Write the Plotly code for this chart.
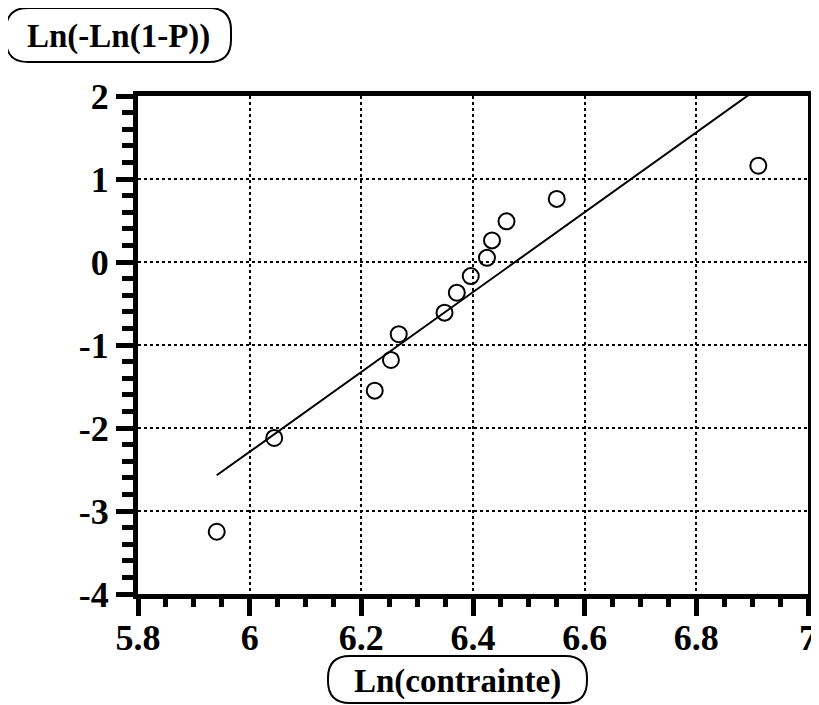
import plotly.graph_objects as go

# Measured points (Weibull plot)
ln_stress = [5.941, 6.044, 6.224, 6.253, 6.267, 6.349, 6.371, 6.396, 6.425, 6.434, 6.46, 6.55, 6.911]
ln_ln_p = [-3.25, -2.12, -1.55, -1.18, -0.87, -0.61, -0.37, -0.17, 0.05, 0.26, 0.49, 0.76, 1.16]

# Fitted line ends
fit_x = [5.941, 6.914]
fit_y = [-2.57, 2.11]

x_ticks = [5.8, 6, 6.2, 6.4, 6.6, 6.8, 7]
y_ticks = [-4, -3, -2, -1, 0, 1, 2]

# page body has an 8px margin, so the figure is drawn 8px in from the corner
OFF = 8
W, H = 819 - OFF, 705 - OFF
L, R, T, B = 138 - OFF, 11, 96 - OFF, 111
PW, PH = W - L - R, H - T - B

tick_font = dict(family="Liberation Serif", size=36, color="black")
title_font = dict(family="Liberation Serif", size=33, color="black")


def px2paper(px, py):
    return (px - OFF - L) / PW, (H - B - (py - OFF)) / PH


def rounded_box(x0, y0, x1, y1, r):
    pts = [
        ("M", [(x0 + r, y0)]),
        ("L", [(x1 - r, y0)]),
        ("Q", [(x1, y0), (x1, y0 + r)]),
        ("L", [(x1, y1 - r)]),
        ("Q", [(x1, y1), (x1 - r, y1)]),
        ("L", [(x0 + r, y1)]),
        ("Q", [(x0, y1), (x0, y1 - r)]),
        ("L", [(x0, y0 + r)]),
        ("Q", [(x0, y0), (x0 + r, y0)]),
    ]
    path = ""
    for cmd, coords in pts:
        path += cmd + " " + " ".join("%.5f,%.5f" % px2paper(*c) for c in coords) + " "
    return dict(type="path", xref="paper", yref="paper", path=path + "Z",
                line=dict(color="black", width=2))


fig = go.Figure()
fig.add_trace(go.Scatter(x=fit_x, y=fit_y, mode="lines",
                         line=dict(color="black", width=2), showlegend=False))
fig.add_trace(go.Scatter(x=ln_stress, y=ln_ln_p, mode="markers",
                         marker=dict(symbol="circle-open", size=16, color="black",
                                     line=dict(width=2)),
                         showlegend=False))

axis_common = dict(
    showline=True, linewidth=5, linecolor="black", mirror=True,
    ticks="outside", ticklen=17, tickwidth=5, tickcolor="black",
    showgrid=True, gridcolor="black", gridwidth=1.5, griddash="dot",
    zeroline=False, automargin=False,
)

fig.update_xaxes(range=[5.8, 7], tickvals=x_ticks,
                 ticktext=["<b>%s</b>" % v for v in x_ticks],
                 tickfont=tick_font, ticklabelstandoff=-9,
                 minor=dict(dtick=0.05, ticks="outside", ticklen=8, tickwidth=5,
                            tickcolor="black", showgrid=False),
                 **axis_common)
fig.update_yaxes(range=[-4, 2], tickvals=y_ticks,
                 ticktext=["<b>%s</b>" % v for v in y_ticks],
                 tickfont=tick_font,
                 minor=dict(dtick=0.2, ticks="outside", ticklen=11, tickwidth=5,
                            tickcolor="black", showgrid=False),
                 **axis_common)

tx, ty = px2paper(118, 36)
bx, by = px2paper(457, 681)
fig.update_layout(
    width=W, height=H,
    margin=dict(l=L, r=R, t=T, b=B),
    plot_bgcolor="white", paper_bgcolor="white",
    shapes=[rounded_box(6, 8, 231, 62, 22), rounded_box(328, 656, 587, 703, 22)],
    annotations=[
        dict(text="<b>Ln(-Ln(1-P))</b>", x=tx, y=ty, xref="paper", yref="paper",
             showarrow=False, font=title_font, xanchor="center", yanchor="middle"),
        dict(text="<b>Ln(contrainte)</b>", x=bx, y=by, xref="paper", yref="paper",
             showarrow=False, font=title_font, xanchor="center", yanchor="middle"),
    ],
)

fig.write_html("out.html")
